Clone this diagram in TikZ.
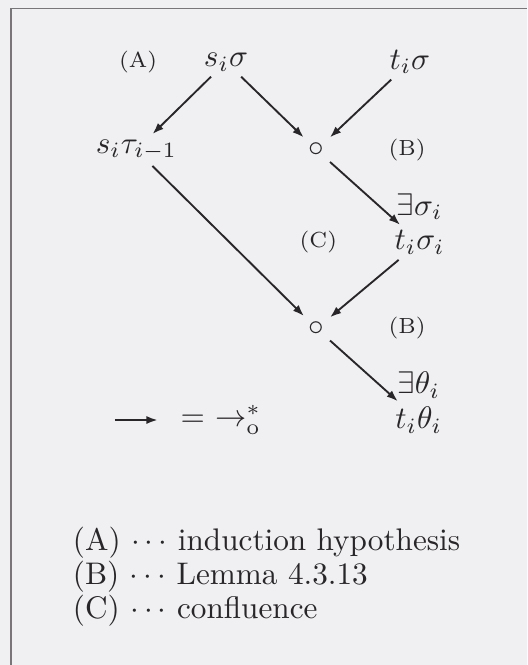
\documentclass[tikz,border=0pt]{standalone}
\usetikzlibrary{positioning, arrows.meta}
\definecolor{paper}{RGB}{240,239,241}
\definecolor{ink}{RGB}{40,38,40}
\definecolor{rulegray}{RGB}{120,118,120}

\begin{document}
\begin{tikzpicture}[->,>={Latex[length=3.6pt,width=2.6pt]},semithick,color=ink,node distance=1cm,on grid,
    term/.style={inner sep=1.5pt},
    tag/.style={font=\scriptsize}]
      \useasboundingbox[fill=paper] (-2.544,-6.788) rectangle (3.389,0.698);
      \draw[-,rulegray,thin] (-2.42,-6.788) |- (3.389,0.60);
      \node[term] (si) {$s_i\sigma$};
      \node[tag,left=0.99cm of si] (lA) {(A)};
      \node[term,right=2.07cm of si] (ti) {$t_i\sigma$};
      \node[term,below left=0.99cm and 1.01cm of si] (sitau) {$s_i\tau_{i-1}$};
      \node[term,below right=0.99cm and 1.02cm of si] (c1) {$\circ$};
      \node[tag,right=1.02cm of c1] (lB1) {(B)};
      \node[term,below right=1.04cm and 1.16cm of c1] (tisi) {$t_i\sigma_i$};
      \node[term,above=0.40cm of tisi] (exsi) {$\exists\sigma_i$};
      \node[tag,left=1.14cm of tisi] (lC) {(C)};
      \node[term,below=2.01cm of c1] (c2) {$\circ$};
      \node[tag,right=1.02cm of c2] (lB2) {(B)};
      \node[term,below right=1.03cm and 1.15cm of c2] (tith) {$t_i\theta_i$};
      \node[term,above=0.39cm of tith] (exth) {$\exists\theta_i$};
      \coordinate[left=3.42cm of tith] (lgs);
      \coordinate[left=2.94cm of tith] (lge);
      \node[right=0.25cm of lge,anchor=west,inner sep=0pt] (lgt) {$=$ $\rightarrow^{*}_{\mathrm{o}}$};
      \node[anchor=west] (keyA) at (-1.85,-5.41) {(A) $\cdots$ induction hypothesis};
      \node[below=0.383cm of keyA.west,anchor=west] (keyB) {(B) $\cdots$ Lemma 4.3.13};
      \node[below=0.383cm of keyB.west,anchor=west] (keyC) {(C) $\cdots$ confluence};
      \path (si) edge (sitau)
            (si) edge (c1)
            (ti) edge (c1)
            (c1) edge (tisi)
            (sitau) edge (c2)
            (tisi) edge (c2)
            (c2) edge (tith)
            (lgs) edge (lge);
    \end{tikzpicture}
\end{document}
